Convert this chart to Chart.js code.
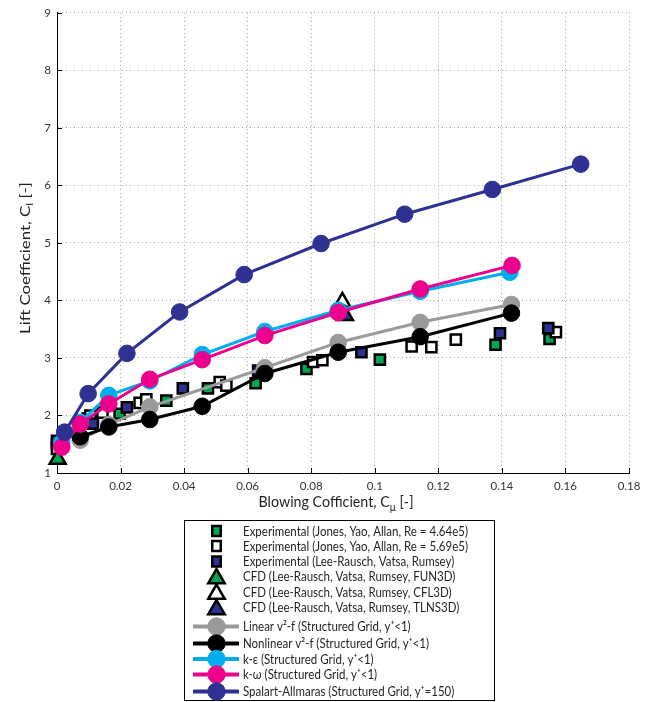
<!DOCTYPE html>
<html><head><meta charset="utf-8">
<script src="https://cdn.jsdelivr.net/npm/chart.js@4.4.0/dist/chart.umd.min.js"></script>
<style>html,body{margin:0;padding:0;background:#fff;}#wrap{width:657px;height:702px;position:relative;}</style>
</head><body><div id="wrap"><canvas id="c" width="657" height="702"></canvas></div>
<script>
// ---- tick labels ----
const xTicks = [0, 0.02, 0.04, 0.06, 0.08, 0.1, 0.12, 0.14, 0.16, 0.18];
const xTickLabels = ['0', '0.02', '0.04', '0.06', '0.08', '0.1', '0.12', '0.14', '0.16', '0.18'];
const yTicks = [1, 2, 3, 4, 5, 6, 7, 8, 9];
const yTickLabels = ['1', '2', '3', '4', '5', '6', '7', '8', '9'];

// ---- experimental data ----
const expJya464X = [0, 0.0097, 0.0197, 0.0344, 0.0475, 0.0625, 0.0785, 0.1016, 0.138, 0.155];
const expJya464Y = [1.50, 1.95, 2.03, 2.26, 2.47, 2.56, 2.81, 2.97, 3.23, 3.33];
const expJya569X = [0, 0.0105, 0.0143, 0.026, 0.0281, 0.0512, 0.0533, 0.0806, 0.0835, 0.1116, 0.1178, 0.1255, 0.157];
const expJya569Y = [1.42, 2.00, 2.05, 2.22, 2.28, 2.58, 2.52, 2.93, 2.96, 3.20, 3.19, 3.32, 3.45];
const expLrvrX = [0, 0.0113, 0.022, 0.0396, 0.0633, 0.0958, 0.1394, 0.1546];
const expLrvrY = [1.56, 1.86, 2.14, 2.47, 2.78, 3.10, 3.43, 3.52];

// ---- CFD (Lee-Rausch et al.) ----
const cfdFun3dX = [0.0002];
const cfdFun3dY = [1.24];
const cfdCfl3dX = [0.0898];
const cfdCfl3dY = [3.97];
const cfdTlns3dX = [0.0906];
const cfdTlns3dY = [3.74];

// ---- turbulence model results ----
const linV2fX = [0.0073, 0.0163, 0.0292, 0.0654, 0.0885, 0.1143, 0.143];
const linV2fY = [1.57, 1.84, 2.15, 2.83, 3.27, 3.62, 3.93];
const nonlinV2fX = [0.0073, 0.0163, 0.0292, 0.0457, 0.0654, 0.0885, 0.1143, 0.143];
const nonlinV2fY = [1.63, 1.80, 1.93, 2.16, 2.73, 3.10, 3.37, 3.78];
const kEpsX = [0.0015, 0.0073, 0.0163, 0.0292, 0.0457, 0.0654, 0.0885, 0.1143, 0.1425];
const kEpsY = [1.53, 1.88, 2.35, 2.60, 3.06, 3.46, 3.83, 4.16, 4.49];
const kOmX = [0.0015, 0.0073, 0.0163, 0.0292, 0.0457, 0.0654, 0.0885, 0.1143, 0.1432];
const kOmY = [1.45, 1.85, 2.20, 2.63, 2.97, 3.39, 3.79, 4.20, 4.61];
const saX = [0.0024, 0.0098, 0.022, 0.0386, 0.0589, 0.0831, 0.1094, 0.137, 0.1648];
const saY = [1.71, 2.38, 3.08, 3.80, 4.45, 4.99, 5.50, 5.93, 6.37];

const GREEN = '#00a651', BLUE = '#2e3192', GRAY = '#9a9a9a', CYAN = '#00aeef', PINK = '#ec008c';
const pts = (xs, ys) => xs.map((x, i) => ({x: x, y: ys[i]}));

function markerSet(label, xs, ys, style, fill) {
  return {
    label: label, data: pts(xs, ys), showLine: false, clip: false,
    pointStyle: style, pointRadius: style === 'rect' ? 7.2 : 9.2, pointHoverRadius: style === 'rect' ? 7.2 : 9.2,
    backgroundColor: fill, borderColor: '#000', pointBorderWidth: 2.5, borderWidth: 2.5
  };
}
function lineSet(label, xs, ys, color) {
  return {
    label: label, data: pts(xs, ys), showLine: true, clip: false,
    pointStyle: 'circle', pointRadius: 8.3, pointHoverRadius: 8.3,
    backgroundColor: color, borderColor: color, pointBorderWidth: 1, borderWidth: 3, tension: 0
  };
}

const datasets = [
  markerSet('Experimental (Jones, Yao, Allan, Re = 4.64e5)', expJya464X, expJya464Y, 'rect', GREEN),
  markerSet('Experimental (Jones, Yao, Allan, Re = 5.69e5)', expJya569X, expJya569Y, 'rect', '#ffffff'),
  markerSet('Experimental (Lee-Rausch, Vatsa, Rumsey)', expLrvrX, expLrvrY, 'rect', BLUE),
  markerSet('CFD (Lee-Rausch, Vatsa, Rumsey, FUN3D)', cfdFun3dX, cfdFun3dY, 'triangle', GREEN),
  markerSet('CFD (Lee-Rausch, Vatsa, Rumsey, CFL3D)', cfdCfl3dX, cfdCfl3dY, 'triangle', '#ffffff'),
  markerSet('CFD (Lee-Rausch, Vatsa, Rumsey, TLNS3D)', cfdTlns3dX, cfdTlns3dY, 'triangle', BLUE),
  lineSet('Linear v\u00B2-f (Structured Grid, y\u207A<1)', linV2fX, linV2fY, GRAY),
  lineSet('Nonlinear v\u00B2-f (Structured Grid, y\u207A<1)', nonlinV2fX, nonlinV2fY, '#000000'),
  lineSet('k-\u03B5 (Structured Grid, y\u207A<1)', kEpsX, kEpsY, CYAN),
  lineSet('k-\u03C9 (Structured Grid, y\u207A<1)', kOmX, kOmY, PINK),
  lineSet('Spalart-Allmaras (Structured Grid, y\u207A=150)', saX, saY, BLUE)
];
datasets.forEach((d, i) => { d.order = datasets.length - i; });

const FONT = 'Lato, "Open Sans", sans-serif';

// draws a title made of parts, centred at (cx, cy), stretched to the given length
function drawRich(ctx, parts, cx, cy, targetLen, sy) {
  let total = 0;
  parts.forEach(p => { ctx.font = p.size + 'px ' + FONT; p.w = ctx.measureText(p.t).width; total += p.w; });
  const sx = targetLen / total;
  ctx.save();
  ctx.translate(cx, cy);
  ctx.scale(sx, sy);
  let x = -total / 2;
  ctx.textAlign = 'left'; ctx.textBaseline = 'middle';
  parts.forEach(p => { ctx.font = p.size + 'px ' + FONT; ctx.fillText(p.t, x, (p.dy || 0)); x += p.w; });
  ctx.restore();
}

function drawMarker(ctx, style, x, y, r, fill, stroke, bw, sy) {
  ctx.save();
  ctx.fillStyle = fill; ctx.strokeStyle = stroke; ctx.lineWidth = bw;
  ctx.beginPath();
  if (style === 'rect') {
    const s = r * Math.SQRT1_2;
    ctx.rect(x - s, y - s * sy, 2 * s, 2 * s * sy);
  } else if (style === 'triangle') {
    for (let k = 0; k < 3; k++) {
      const a = k * 2 * Math.PI / 3;
      const px = x + Math.sin(a) * r, py = y - Math.cos(a) * r * sy;
      if (k === 0) ctx.moveTo(px, py); else ctx.lineTo(px, py);
    }
    ctx.closePath();
  } else {
    ctx.arc(x, y, r, 0, Math.PI * 2);
  }
  ctx.fill(); if (bw > 0) ctx.stroke();
  ctx.restore();
}

const extras = {
  id: 'extras',
  afterDraw(chart) {
    const ctx = chart.ctx;
    const xs = chart.scales.x, ys = chart.scales.y, ca = chart.chartArea;
    ctx.save();
    // inward ticks
    ctx.strokeStyle = '#000'; ctx.lineWidth = 1;
    ctx.beginPath();
    xTicks.forEach(v => { const px = Math.round(xs.getPixelForValue(v)) + 0.5; ctx.moveTo(px, ca.bottom); ctx.lineTo(px, ca.bottom - 5); });
    yTicks.forEach(v => { const py = Math.round(ys.getPixelForValue(v)) + 0.5; ctx.moveTo(ca.left, py); ctx.lineTo(ca.left + 5, py); });
    ctx.stroke();
    // axis titles
    ctx.fillStyle = '#231f20';
    drawRich(ctx, [{t: 'Blowing Cofficient, C', size: 14}, {t: '\u03BC', size: 10, dy: 5}, {t: ' [-]', size: 14}], 336, 502, 155, 1.12);
    ctx.save();
    ctx.translate(25, 258); ctx.rotate(-Math.PI / 2);
    drawRich(ctx, [{t: 'Lift Coefficient, C', size: 14}, {t: 'l', size: 10, dy: 5}, {t: ' [-]', size: 14}], 0, 0, 152, 1.0);
    ctx.restore();
    // legend
    const bx = 184.5, by = 520.5, bw = 310, bh = 180;
    ctx.fillStyle = '#fff'; ctx.fillRect(bx, by, bw, bh);
    ctx.strokeStyle = '#000'; ctx.lineWidth = 1; ctx.strokeRect(bx, by, bw, bh);
    const rowY = [531, 546, 561.5, 576.5, 592, 607.5, 626.5, 643.5, 659, 674.5, 691.5];
    const symX = 216.5;
    ctx.font = '12px ' + FONT;
    const refW = ctx.measureText(chart.data.datasets[0].label).width;
    const tsx = 225 / refW, tsy = 1.12;
    chart.data.datasets.forEach((d, i) => {
      const y = rowY[i];
      if (d.showLine) {
        ctx.save(); ctx.strokeStyle = d.borderColor; ctx.lineWidth = 4;
        ctx.beginPath(); ctx.moveTo(193, y); ctx.lineTo(239, y); ctx.stroke(); ctx.restore();
        drawMarker(ctx, 'circle', symX, y, 8.7, d.backgroundColor, d.borderColor, 1, 1);
      } else if (d.pointStyle === 'rect') {
        drawMarker(ctx, 'rect', symX, y, 6.0, d.backgroundColor, '#000', 2.5, 1.2);
      } else {
        drawMarker(ctx, 'triangle', symX, y + 2, 9.5, d.backgroundColor, '#000', 2.5, 1.0);
      }
      ctx.save();
      ctx.fillStyle = '#231f20'; ctx.font = '12px ' + FONT; ctx.textAlign = 'left'; ctx.textBaseline = 'middle';
      ctx.translate(243, y + 0.5); ctx.scale(tsx, tsy);
      ctx.fillText(d.label, 0, 0);
      ctx.restore();
    });
    ctx.restore();
  }
};

new Chart(document.getElementById('c'), {
  type: 'scatter',
  data: {datasets: datasets},
  options: {
    responsive: false, animation: false,
    layout: {padding: {left: 0, right: 28, top: 12, bottom: 199}},
    plugins: {legend: {display: false}, tooltip: {enabled: false}},
    scales: {
      x: {
        type: 'linear', min: 0, max: 0.18,
        afterBuildTicks: s => { s.ticks = xTicks.map(v => ({value: v})); },
        afterFit: s => { s.height = 30; },
        ticks: {callback: (v, i) => xTickLabels[i], color: '#333', font: {family: FONT, size: 11.5}, padding: 6, maxRotation: 0, autoSkip: false},
        grid: {color: '#a8a8a8', lineWidth: 1, drawTicks: false},
        border: {display: true, color: '#000', width: 1, dash: [1, 3]}
      },
      y: {
        type: 'linear', min: 1, max: 9,
        afterBuildTicks: s => { s.ticks = yTicks.map(v => ({value: v})); },
        afterFit: s => { s.width = 57; },
        ticks: {callback: (v, i) => yTickLabels[i], color: '#333', font: {family: FONT, size: 11.5}, padding: 6, autoSkip: false},
        grid: {color: '#a8a8a8', lineWidth: 1, drawTicks: false},
        border: {display: true, color: '#000', width: 1, dash: [1, 3]}
      }
    }
  },
  plugins: [extras]
});
</script></body></html>
